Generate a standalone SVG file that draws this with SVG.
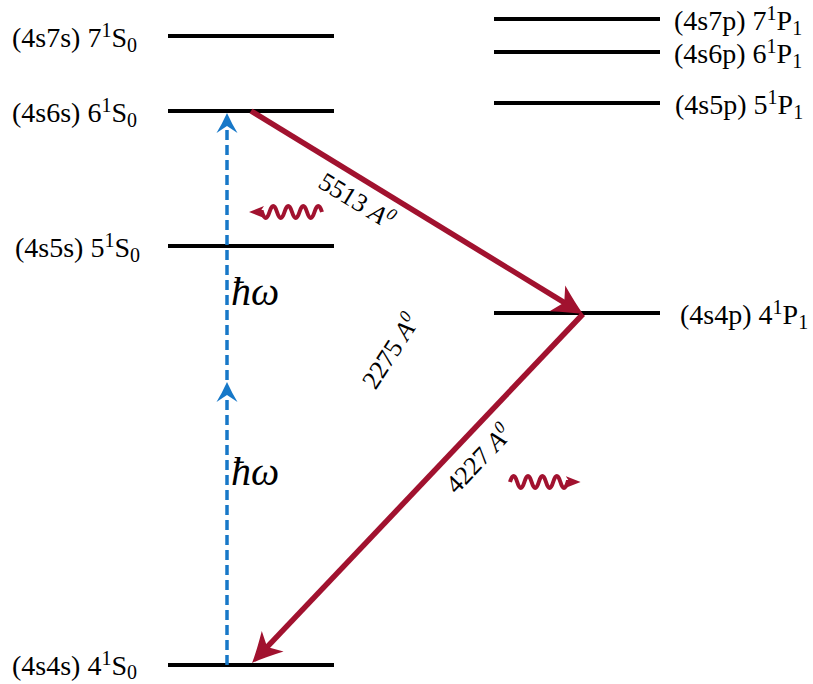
<svg xmlns="http://www.w3.org/2000/svg" width="813" height="684" viewBox="0 0 813 684">
<style>
text{font-family:"Liberation Serif","Times New Roman",serif;fill:#000}
.lbl{font-size:28px}
.ss{font-size:20px}
.lvl{stroke:#000;stroke-width:4;fill:none}
.red{stroke:#a1122f;stroke-width:5.5;fill:none}
.blue{stroke:#1778c8;stroke-width:3.5;fill:none;stroke-dasharray:10 5}
.wave{stroke:#a1122f;stroke-width:4;fill:none}
.wl{font-size:26px}
.hw{font-size:40px;font-style:italic}
</style>
<defs>
<marker id="ra" markerUnits="userSpaceOnUse" viewBox="0 0 34 32" markerWidth="34" markerHeight="32" refX="13" refY="16" orient="auto">
<path d="M32,16 Q20,11 2,1 L10,16 L2,31 Q20,21 32,16 Z" fill="#a1122f"/>
</marker>
<marker id="ba" markerUnits="userSpaceOnUse" viewBox="0 0 22 22" markerWidth="22" markerHeight="22" refX="9" refY="11" orient="auto">
<path d="M20,11 Q9,6 0,0.5 L7,11 L0,21.5 Q9,16 20,11 Z" fill="#1778c8"/>
</marker>
<marker id="wa" markerUnits="userSpaceOnUse" viewBox="0 0 16 14" markerWidth="16" markerHeight="14" refX="5" refY="7" orient="auto">
<path d="M15,7 L0,1 L4,7 L0,13 Z" fill="#a1122f"/>
</marker>
</defs>

<g id="level-4s7s">
<line class="lvl" x1="168" y1="36" x2="334" y2="36"/>
<text class="lbl" x="12" y="47">(4s7s) 7<tspan class="ss" dy="-10">1</tspan><tspan dy="10">S</tspan><tspan class="ss" dy="5">0</tspan></text>
</g>
<g id="level-4s6s">
<line class="lvl" x1="168" y1="111" x2="334" y2="111"/>
<text class="lbl" x="12" y="122">(4s6s) 6<tspan class="ss" dy="-10">1</tspan><tspan dy="10">S</tspan><tspan class="ss" dy="5">0</tspan></text>
</g>
<g id="level-4s5s">
<line class="lvl" x1="168" y1="246" x2="334" y2="246"/>
<text class="lbl" x="15" y="256.5">(4s5s) 5<tspan class="ss" dy="-10">1</tspan><tspan dy="10">S</tspan><tspan class="ss" dy="5">0</tspan></text>
</g>
<g id="level-4s4s">
<line class="lvl" x1="168" y1="665" x2="334" y2="665"/>
<text class="lbl" x="12" y="675">(4s4s) 4<tspan class="ss" dy="-10">1</tspan><tspan dy="10">S</tspan><tspan class="ss" dy="4">0</tspan></text>
</g>
<g id="level-4s7p">
<line class="lvl" x1="494" y1="19" x2="660" y2="19"/>
<text class="lbl" x="674" y="30">(4s7p) 7<tspan class="ss" dy="-10">1</tspan><tspan dy="10">P</tspan><tspan class="ss" dy="5">1</tspan></text>
</g>
<g id="level-4s6p">
<line class="lvl" x1="494" y1="52" x2="660" y2="52"/>
<text class="lbl" x="674" y="62.5">(4s6p) 6<tspan class="ss" dy="-10">1</tspan><tspan dy="10">P</tspan><tspan class="ss" dy="5">1</tspan></text>
</g>
<g id="level-4s5p">
<line class="lvl" x1="494" y1="103" x2="660" y2="103"/>
<text class="lbl" x="675" y="114">(4s5p) 5<tspan class="ss" dy="-10">1</tspan><tspan dy="10">P</tspan><tspan class="ss" dy="5">1</tspan></text>
</g>
<g id="level-4s4p">
<line class="lvl" x1="494" y1="313" x2="660" y2="313"/>
<text class="lbl" x="680" y="324">(4s4p) 4<tspan class="ss" dy="-10">1</tspan><tspan dy="10">P</tspan><tspan class="ss" dy="5">1</tspan></text>
</g>

<g id="connectors">
<path class="blue" d="M227,665 L227,393" marker-end="url(#ba)"/>
<path class="blue" d="M227,380 L227,124" marker-end="url(#ba)"/>
<path class="red" d="M251,111 L566.8,304.1" marker-end="url(#ra)"/>
<path class="red" d="M583,314 L265.1,649.2" marker-end="url(#ra)"/>
<path class="wave" d="M322,212 q-3.75,-12 -7.5,0 t-7.5,0 t-7.5,0 t-7.5,0 t-7.5,0 t-7.5,0 t-7.5,0 t-7.5,0 l-3,0" marker-end="url(#wa)"/>
<path class="wave" d="M510,482 q3.6,-12 7.2,0 t7.2,0 t7.2,0 t7.2,0 t7.2,0 t7.2,0 t7.2,0 t7.2,0 l3,0" marker-end="url(#wa)"/>
</g>

<g id="labels">
<text class="hw" x="231" y="305">ħω</text>
<text class="hw" x="231" y="485">ħω</text>
<text class="wl" text-anchor="middle" transform="translate(352,208) rotate(31.4)">5513 <tspan font-style="italic">A</tspan><tspan font-style="italic" font-size="17" dy="-10">0</tspan></text>
<text class="wl" text-anchor="middle" transform="translate(398,356) rotate(-57)">2275 <tspan font-style="italic">A</tspan><tspan font-style="italic" font-size="17" dy="-10">0</tspan></text>
<text class="wl" text-anchor="middle" transform="translate(485,465) rotate(-46.5)">4227 <tspan font-style="italic">A</tspan><tspan font-style="italic" font-size="17" dy="-10">0</tspan></text>
</g>
</svg>
